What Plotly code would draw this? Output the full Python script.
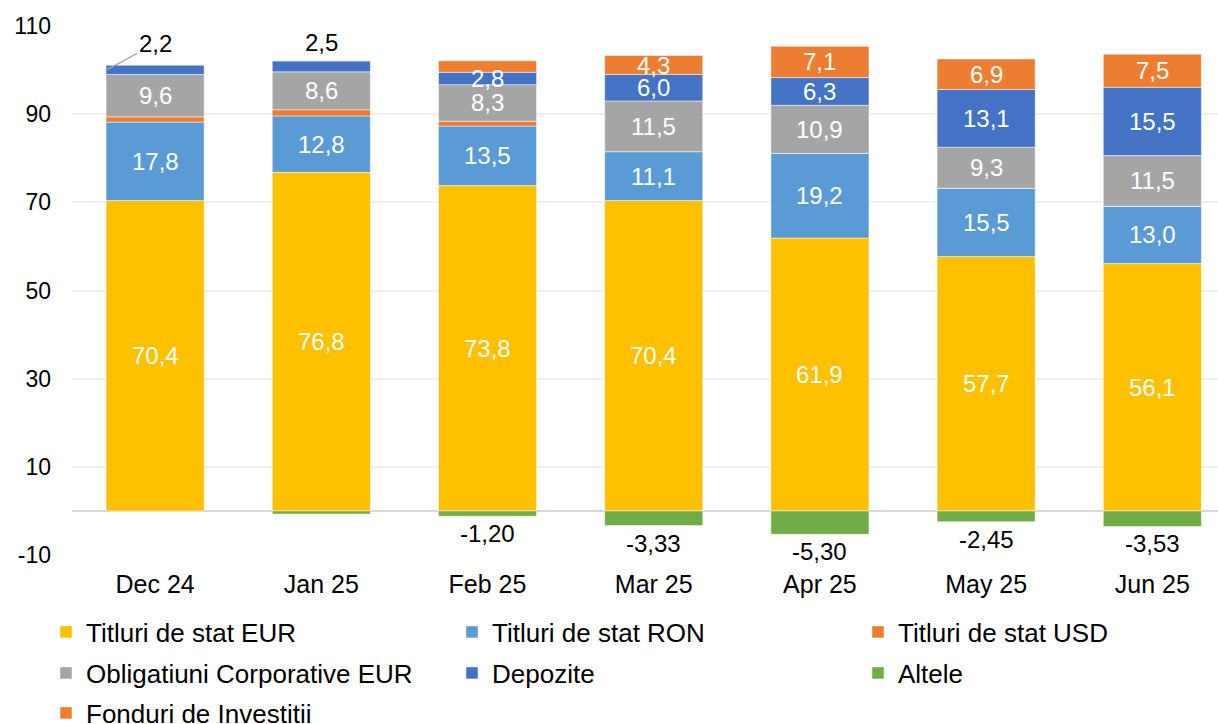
import plotly.graph_objects as go

categories = ["Dec 24", "Jan 25", "Feb 25", "Mar 25", "Apr 25", "May 25", "Jun 25"]
titluri_eur = [70.4, 76.8, 73.8, 70.4, 61.9, 57.7, 56.1]
titluri_ron = [17.8, 12.8, 13.5, 11.1, 19.2, 15.5, 13.0]
titluri_usd = [1.2, 1.4, 1.1, 0.0, 0.0, 0.0, 0.0]
oblig_corp = [9.6, 8.6, 8.3, 11.5, 10.9, 9.3, 11.5]
depozite = [2.2, 2.5, 2.8, 6.0, 6.3, 13.1, 15.5]
altele = [0.0, -0.7, -1.20, -3.33, -5.30, -2.45, -3.53]
fonduri = [0.0, 0.0, 2.6, 4.3, 7.1, 6.9, 7.5]

y_ticks = [-10, 10, 30, 50, 70, 90, 110]

FONT = "Liberation Sans, Arial, sans-serif"
FS_LABEL = 24
FS_CAT = 25
FS_LEG = 26
FS_Y = 23

series = [
    ("Titluri de stat EUR", titluri_eur, "#FFC000"),
    ("Titluri de stat RON", titluri_ron, "#5B9BD5"),
    ("Titluri de stat USD", titluri_usd, "#ED7D31"),
    ("Obligatiuni Corporative EUR", oblig_corp, "#A5A5A5"),
    ("Depozite", depozite, "#4472C4"),
    ("Altele", altele, "#70AD47"),
    ("Fonduri de Investiții", fonduri, "#ED7D31"),
]
# legend grid: 3 columns, rows of 3
W, H = 1218, 724
col_x = [46, 452, 858]
row_y = [632, 673, 713]

fig = go.Figure()
legend_layouts = {}
for k, (name, vals, color) in enumerate(series):
    lg = "legend" if k == 0 else f"legend{k + 1}"
    fig.add_trace(go.Bar(
        x=categories, y=vals, name=name, legend=lg,
        marker=dict(color=color, line=dict(color="rgba(255,255,255,0.6)", width=0.8)),
    ))
    legend_layouts[lg] = dict(
        orientation="h", xref="container", yref="container",
        x=col_x[k % 3] / W, y=1 - row_y[k // 3] / H,
        xanchor="left", yanchor="middle",
        font=dict(size=FS_LEG, family=FONT, color="black"),
        bgcolor="rgba(0,0,0,0)", itemwidth=30,
    )

def fmt(v, d=1):
    return f"{v:.{d}f}".replace(".", ",")

annotations = []
show_inside = {
    "Titluri de stat EUR": [True] * 7,
    "Titluri de stat RON": [True] * 7,
    "Titluri de stat USD": [False] * 7,
    "Obligatiuni Corporative EUR": [True] * 7,
    "Depozite": [False, False, True, True, True, True, True],
    "Fonduri de Investiții": [False, False, False, True, True, True, True],
}
positive_series = [s for s in series if s[0] != "Altele"]
for i, cat in enumerate(categories):
    base = 0.0
    for name, vals, color in positive_series:
        v = vals[i]
        if show_inside[name][i]:
            annotations.append(dict(
                x=cat, y=base + v / 2, text=fmt(v), showarrow=False,
                font=dict(color="white", size=FS_LABEL, family=FONT),
            ))
        base += v
    total = base
    if i == 0:
        dep_mid = total - depozite[i] / 2
        annotations.append(dict(
            x=cat, y=dep_mid, xshift=-48, text=fmt(depozite[i]), showarrow=True,
            arrowhead=0, arrowwidth=1.2, arrowcolor="#A6A6A6", ax=48, ay=-26,
            standoff=0, font=dict(color="black", size=FS_LABEL, family=FONT),
        ))
    elif i == 1:
        annotations.append(dict(
            x=cat, y=total, text=fmt(depozite[i]), showarrow=False,
            yanchor="bottom", yshift=3,
            font=dict(color="black", size=FS_LABEL, family=FONT),
        ))
    if i >= 2:
        annotations.append(dict(
            x=cat, y=altele[i], text=fmt(altele[i], 2), showarrow=False,
            yanchor="top", yshift=-2,
            font=dict(color="black", size=FS_LABEL, family=FONT),
        ))

fig.update_layout(
    barmode="relative",
    bargap=0.41,
    width=W, height=H,
    margin=dict(l=72, r=0, t=26, b=169, autoexpand=False),
    plot_bgcolor="white", paper_bgcolor="white",
    font=dict(family=FONT, size=FS_CAT, color="black"),
    showlegend=True,
    annotations=annotations,
    xaxis=dict(range=[-0.5, 6.395], showgrid=False, showline=False, ticks="",
               ticklabelstandoff=12, automargin=False,
               tickfont=dict(size=FS_CAT, family=FONT)),
    yaxis=dict(range=[-10, 110], tickvals=y_ticks, ticktext=[str(t) for t in y_ticks],
               showgrid=True, gridcolor="#EFEFEF", gridwidth=1.5,
               zeroline=True, zerolinecolor="#D9D9D9", zerolinewidth=2,
               showline=False, ticks="", ticklabelstandoff=20, automargin=False,
               tickfont=dict(size=FS_Y, family=FONT)),
    **legend_layouts,
)

fig.write_html("out.html", config={"displayModeBar": False},
               post_script="document.body.style.margin='0';document.body.style.overflow='hidden';")
